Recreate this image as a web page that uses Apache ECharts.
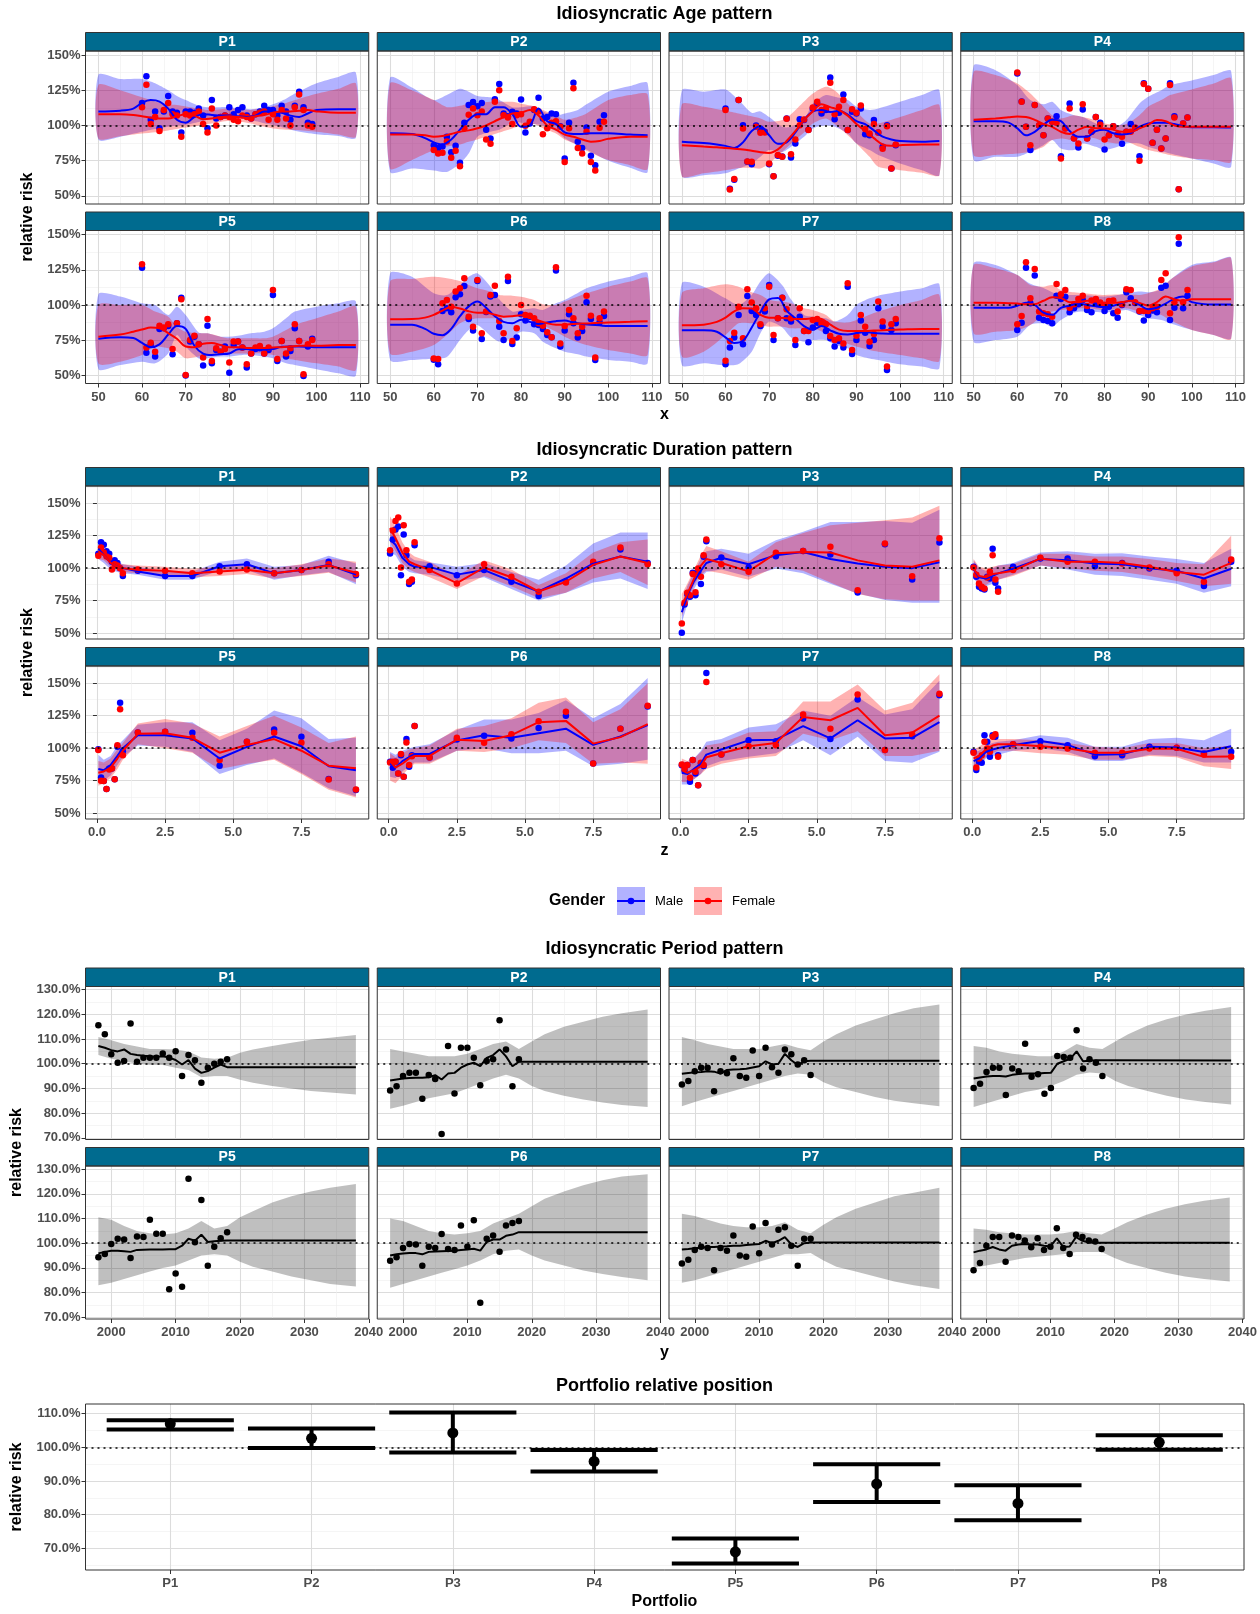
<!DOCTYPE html>
<html>
<head>
<meta charset="utf-8">
<title>Idiosyncratic patterns</title>
<script src="https://cdn.jsdelivr.net/npm/echarts@6.0.0/dist/echarts.min.js"></script>
<style>
  html, body { margin: 0; padding: 0; background: #fff; }
  #chart { width: 1260px; height: 1614px; }
</style>
</head>
<body>
<div id="chart"></div>
<script>
// ---------- data ----------
const FACETS = ['P1', 'P2', 'P3', 'P4', 'P5', 'P6', 'P7', 'P8'];

// age pattern
const AGE_PT_X = [60, 61, 62, 63, 64, 65, 66, 67, 68, 69, 70, 71, 72, 73, 74, 75, 76, 77, 78, 79,
  80, 81, 82, 83, 84, 85, 86, 87, 88, 89, 90, 91, 92, 93, 94, 95, 96, 97, 98, 99];
const AGE_FIT_X = [50, 55, 58, 60, 62, 64, 66, 68, 70, 72, 74, 76, 78, 80, 82, 84, 86, 88, 90, 92, 94, 96, 98, 100, 105, 109];
const AGE_BAND_X = [50, 55, 60, 63, 66, 68, 70, 73, 75, 78, 80, 83, 85, 88, 90, 93, 95, 100, 105, 109];

const ageMalePts = [
  [116, 135, 104, 110, 98, 110, 121, 110, 109, 95, 110, 110, 109, 112, 107, 98, 118, 105, 106, 107, 113, 108, 111, 113, 107, 105, 108, 110, 114, 111, 111, 107, 114, 110, 104, 114, 124, 113, 102, 101],
  [86, 84, 85, 92, 81, 85.5, 73.5, 102, 114.5, 116.6, 113.7, 116, 97, 90.8, 118.7, 129.4, 108.5, 106.6, 109.7, 108.5, 118.5, 95, 101.4, 111, 119.7, 105, 106, 108.5, 108, 99.5, 76.5, 102, 130.3, 88.4, 84, 98.6, 78.4, 71.8, 102.6, 107.3],
  [112, 55, 61.5, 118, 100.2, 74.2, 72.5, 100, 96.7, 95.5, 72.5, 64, 78.4, 78, 105, 77.3, 87.2, 104.5, 103.8, 97, 112, 115.6, 108.5, 111, 134, 104.5, 109, 122, 96.7, 109.7, 108.5, 112, 93.8, 93, 103.8, 95, 84.8, 100.2, 69.4, 86],
  [137, 117, 99, 82.5, 114.5, 100, 93, 105, 102.6, 106.6, 78.2, 98, 115.6, 91, 84.4, 111.4, 91, 95.5, 106, 102, 83, 93, 99.5, 93.6, 87, 95.5, 101, 98.3, 78.2, 130, 126, 87.7, 97, 83.6, 90.8, 130, 106.6, 54.7, 101.4, 105.7],
  [126.5, 66.1, 72, 63.3, 83, 83.5, 85, 65, 87, 105.2, 49.8, 74, 77.5, 72, 56.9, 85.3, 58.5, 68, 66.8, 70.4, 51.9, 71.6, 74, 69.7, 55.5, 65.6, 68.7, 69.2, 65.6, 68, 107.1, 60.2, 74.4, 63.3, 67.3, 83.4, 74.4, 49.5, 70.5, 76],
  [61, 57.8, 95.7, 97.6, 94.8, 105.5, 107.6, 113.5, 90, 81.8, 117, 75.8, 95, 106, 107.1, 84.6, 75.1, 117, 72.3, 76.8, 93.4, 88.9, 91.7, 86.3, 85.8, 82.9, 78.7, 77, 124.4, 70.4, 81.8, 93.4, 87, 76.8, 81.5, 101.9, 90, 60.9, 87.7, 92.2],
  [57.8, 69.7, 76.8, 92.9, 72, 106.4, 95.7, 92.9, 85, 95.3, 114.2, 75.1, 90.5, 105.2, 90.5, 88.2, 71.6, 91.7, 81.5, 73.5, 83.9, 87.4, 87, 81.5, 76.3, 70.4, 74.4, 69.7, 113, 65.2, 75.1, 88.9, 80.3, 70.9, 75.1, 97.6, 84.6, 53.8, 82.2, 87],
  [82.2, 87.4, 126.5, 101.2, 120.9, 91, 89.3, 88.6, 87, 106.6, 104.3, 105.9, 94.8, 97.6, 100.5, 103.6, 96.4, 94.8, 101.2, 100.5, 95.7, 98.8, 94.1, 91, 100, 109, 104.7, 101.4, 95.3, 88.9, 92.9, 96, 94.8, 112.3, 113.7, 89.3, 98.1, 143.4, 97.6, 106.6]
];
const ageFemalePts = [
  [113, 129, 101, 106, 96, 111, 116, 108, 107, 92, 108, 107, 108, 110, 101, 95, 112, 100, 106, 107, 106, 104, 103, 107, 106, 105, 108, 109, 110, 104, 108, 104, 111, 105, 100, 113, 122, 111, 100, 99],
  [82.5, 80, 80.6, 88.6, 77, 82, 71, 98, 107.6, 112, 107.3, 110, 90, 87, 116.8, 125, 107.3, 105.7, 101, 107.3, 108, 99.8, 102.6, 111.6, 110, 93.8, 98, 102, 103, 99, 74, 98, 126.5, 84, 80, 95.5, 74, 68, 98.3, 102.6],
  [111, 54.5, 62, 118, 97.9, 74.4, 74.2, 99, 94.8, 95, 73, 64, 79, 77.7, 104.7, 79.6, 90, 100.2, 104.3, 96.7, 112.8, 116.8, 111, 112, 130.3, 108, 113.3, 118, 96.7, 111.6, 109, 114.2, 97.4, 94.3, 101, 95, 83.4, 99.5, 69.4, 86.5],
  [137.7, 116.8, 99, 86, 114.5, 100.2, 93, 105, 102.6, 102, 76.5, 97.9, 112, 90.8, 87.2, 115, 90.8, 95.5, 106, 100.5, 90, 93, 99.5, 93.6, 92, 95.5, 95.5, 98.3, 74.9, 129.4, 126, 87.7, 97, 83.6, 90.8, 128.7, 105.7, 54.7, 101.4, 105.7],
  [128.9, 69.7, 73.2, 66.8, 85.3, 84, 86.3, 68.7, 87, 104, 50.2, 75.1, 78.2, 72, 62.6, 90, 60.2, 69.2, 66.8, 68.7, 59.2, 74, 74, 69.7, 57.8, 65.6, 69.7, 70.9, 65.6, 69.7, 110.7, 61.6, 74.4, 65.6, 69.2, 86.3, 74.4, 50.7, 72, 75.1],
  [62, 61.6, 101.2, 103.6, 98.8, 109.5, 111.8, 118.9, 91.7, 84.6, 117.8, 79.9, 95.3, 107.1, 113.7, 88.6, 79.9, 120.1, 74.4, 83.4, 100, 92.9, 92.4, 90.5, 87, 85.3, 80.6, 77, 126.8, 72.7, 85, 96.4, 90.5, 79.9, 84.6, 106.6, 92.4, 62.6, 90.5, 95.3],
  [60.4, 74.4, 80.3, 98.8, 76.3, 111.1, 101.7, 97.6, 86.3, 97.6, 113, 78.7, 90.5, 105.2, 96.9, 90.5, 75.1, 97.6, 81.5, 81.5, 89.3, 90, 87, 86.3, 78, 75.1, 76.3, 72.7, 115.4, 68, 78.2, 92.9, 84.6, 73.9, 79.4, 102.4, 88.2, 56.2, 86.3, 90],
  [86.3, 92.2, 130.3, 104.7, 125.6, 95.3, 94.1, 93.4, 91.7, 114.9, 107.6, 110.7, 98.1, 100.5, 104.3, 106.6, 99.3, 103.1, 104.3, 101.7, 100, 102.8, 103.1, 95.3, 100.5, 111.1, 110.7, 101.9, 95.7, 95.7, 95.7, 97.6, 98.8, 117.8, 122.5, 94.1, 101.9, 148.1, 101.9, 110.7]
];
const ageMaleFit = [
  [110, 110.5, 112, 116, 118, 117, 112, 104, 102, 106, 108, 107.5, 107, 107, 106.5, 106, 107, 110, 110, 109, 107, 106, 108.5, 111, 111.5, 111.5],
  [94.5, 94, 91, 88, 86.5, 90, 97, 104, 108, 108, 113, 113, 108, 99, 100, 112, 103, 101, 95, 94, 94, 94.5, 94.5, 94.5, 93.5, 93],
  [88.5, 87.5, 86.5, 85.5, 84, 88, 96, 99.5, 93, 87, 88, 95, 104, 110, 111, 109.5, 110.5, 107.7, 103, 101, 96.5, 92, 90, 89, 88.5, 89],
  [103, 103, 102, 98, 93, 95.5, 100.5, 104, 103, 96, 92, 92, 96, 97, 94.5, 93.5, 94.5, 99, 101.4, 102, 102, 101, 99.5, 98.8, 98.8, 98.5],
  [76, 77, 76.5, 73, 70, 72, 79, 85, 83, 71, 65.5, 64.5, 65, 65.5, 68.5, 68.7, 68, 68.3, 68.7, 70.3, 70.5, 70.5, 70.3, 70, 70, 70],
  [86, 86, 83, 79.5, 78.5, 83, 92, 99, 102.4, 98, 92, 88, 87, 89.5, 88, 86.5, 87.5, 88.5, 89, 87.5, 86.5, 86, 85.5, 85, 85, 85],
  [82, 82, 81, 77, 73, 74.5, 84, 95, 104, 105, 96, 90.5, 85, 82.5, 85, 82, 79.5, 79, 80, 80.8, 80, 79.7, 79.6, 79.5, 79.5, 79.5],
  [98, 98, 98, 99.5, 101.5, 100, 94.5, 93, 98, 99.5, 101, 100, 99, 98.5, 99.5, 101.5, 103, 100, 97, 98, 101, 104.5, 106, 102, 100.3, 100.3]
];
const ageFemaleFit = [
  [108, 108, 107.5, 106.5, 105.5, 105, 105, 106.5, 108, 107, 104.5, 105, 106, 106.5, 106, 105.5, 106.5, 107.5, 109, 110, 110, 110.5, 111, 110, 109, 109],
  [93.5, 93.5, 93, 92, 92.5, 94, 95.5, 96.5, 98, 100, 103, 106, 108.5, 109, 111, 107, 100, 97, 93.5, 92, 90, 88.5, 89, 90.5, 92, 92],
  [86, 85, 84.5, 84, 83.5, 83, 82, 81, 80.5, 83, 89, 96, 104, 110, 115, 113, 111, 107, 101, 96, 91, 86.5, 85.5, 86, 86.5, 86.5],
  [104, 105, 105.8, 106.3, 106, 104, 101, 99, 95.5, 94, 97, 99, 98, 97.9, 97, 95.5, 95.5, 97.9, 100.5, 103.8, 103, 100, 99, 99, 99, 99],
  [77.5, 79, 81, 82.5, 84, 83.5, 80, 76, 70.5, 70, 72.5, 73, 71.5, 70, 70, 69.5, 69.5, 69.5, 69.8, 70, 70.5, 71, 71, 71, 71.5, 71.5],
  [89.8, 90, 91, 93, 96, 98.5, 97.5, 95.5, 94.5, 94.5, 93, 91.7, 92, 92.6, 91.5, 89, 87, 86, 86, 86.5, 86.8, 87, 87.3, 87.5, 88, 88.5],
  [85.5, 86, 88, 91, 95.5, 97.7, 97.5, 93, 91, 91, 90.5, 90, 90, 90.5, 90, 86, 82.5, 81.5, 81.5, 81.5, 81.8, 82, 82.3, 82.5, 83, 83],
  [101.5, 101.5, 101.2, 101, 100.5, 100.5, 103, 105.5, 105, 102, 102, 103, 102.5, 101.5, 101.5, 102, 103, 101.5, 99.5, 102, 106, 104, 103, 104, 104, 104]
];
const ageMaleHi = [
  [136, 133, 133, 130, 125, 121, 118, 114, 113, 113, 113, 112, 111.6, 113, 115, 119, 122.7, 130, 134.5, 137.4],
  [134, 127, 118, 121.6, 126, 124, 121, 120, 118, 113, 113, 113.7, 110, 107, 108.5, 111, 115, 124, 128, 130],
  [125, 124, 125.6, 118, 109, 110, 106, 99, 99, 104, 115.6, 121.6, 120.4, 118, 113.3, 111, 112, 116.8, 121.6, 125],
  [142.4, 139.3, 128.7, 118, 115, 116.8, 111, 107.3, 106, 101.4, 99, 99.5, 103.8, 115.6, 120.4, 125, 128.7, 132, 135.8, 138.6],
  [107.6, 106, 101.2, 100, 92.9, 98.8, 92.9, 80.5, 79.9, 77.5, 77.5, 78.7, 79.9, 81, 83.4, 90.5, 95.3, 98.8, 101.2, 102.4],
  [122.5, 120.1, 108.3, 107, 114.2, 120.1, 122.5, 113, 104, 95.3, 96.4, 97.6, 96.4, 101.2, 103.6, 108.5, 111.8, 116.6, 120.1, 122.5],
  [115.4, 113, 104.7, 100, 107.1, 116.6, 122.5, 114, 104, 92.9, 91.7, 90.5, 88.2, 92.9, 100, 104.7, 106.6, 109.5, 111.8, 114.7],
  [129.6, 128.4, 121.3, 115, 112, 109, 107.1, 107.1, 107.1, 106.4, 105.9, 107, 108.3, 109.5, 109, 111, 117.8, 128.4, 130.8, 133.6]
];
const ageMaleLo = [
  [90, 92, 95.5, 97.5, 99, 100, 100.5, 102.5, 104, 105.5, 106, 105, 103.8, 101.5, 100.3, 98, 96.2, 93.7, 92.5, 91.2],
  [67, 69.4, 68, 67, 73, 80, 92, 95.5, 97, 102, 102, 101, 100, 96, 91, 86, 83, 75, 70, 67],
  [64, 64.7, 66, 69.4, 73, 77.7, 82.5, 81, 84.8, 92, 97.9, 100.2, 99, 94.3, 87.2, 82.5, 79, 73, 68.2, 64.7],
  [75.4, 77.7, 77.7, 81.3, 86, 89.6, 83.6, 82.5, 87.2, 84.8, 82.5, 84.8, 87.2, 87.2, 84.8, 82, 80, 76.5, 73, 70.6],
  [54.5, 57.3, 59.7, 58.5, 65.6, 78.7, 70.4, 62, 62.1, 63.3, 63.3, 64.5, 64.5, 63.3, 62.1, 58.5, 57.3, 54.3, 51.4, 49.8],
  [60.9, 60.9, 62, 63, 75.1, 82.2, 85.8, 78, 74, 76.3, 81, 79.9, 73.9, 69.2, 66.8, 65, 63.3, 60.9, 59.7, 58.5],
  [57.3, 58.5, 57, 58, 66.8, 79.9, 88.2, 84, 77, 73.9, 75.1, 75.1, 71.6, 69.2, 64.5, 62, 60.9, 57.8, 56.2, 55],
  [73.9, 75.1, 77.5, 86, 87, 84.6, 89.3, 94.5, 95.3, 95, 94.8, 95.6, 96.4, 92.9, 90.5, 89.3, 87, 82.2, 78.7, 76.3]
];
const ageFemaleHi = [
  [128.7, 125, 120, 117, 115, 114.5, 113.5, 112, 111, 111.5, 112, 111.5, 111, 112.5, 113.7, 116, 118, 122.5, 126, 129.9],
  [130, 125, 118, 113, 114, 115.5, 116, 116.8, 116.8, 116.8, 115.5, 113.7, 111, 107, 104, 106, 108.5, 118, 121.6, 122],
  [115, 113.3, 110.4, 108.5, 106.5, 105, 102.6, 103.8, 108, 117, 122.7, 127.5, 125, 115.6, 109.7, 101.4, 101.4, 106, 111, 114.5],
  [138, 135.8, 129.8, 122.7, 113.3, 107.3, 105, 107.3, 106, 103.8, 101.4, 100.2, 101, 107.3, 113.3, 118, 121.6, 125.6, 129.8, 133.4],
  [100, 100, 100, 95.3, 91.7, 84.6, 81, 79.9, 79.9, 77.5, 76.3, 76.3, 76.3, 76.3, 77.5, 82.2, 85.8, 90.5, 95.3, 98.8],
  [116.6, 118.5, 120.1, 119, 117, 114.2, 111.8, 109.5, 107.1, 106.6, 105.9, 103.6, 100.5, 100, 102.4, 106, 108.3, 113, 116.6, 119],
  [108.3, 111.8, 114.7, 113, 109, 107.1, 103.6, 102.4, 101.2, 97.6, 96.4, 92.9, 88.2, 87.5, 89.3, 93, 95.3, 100, 103.6, 107.1],
  [128.4, 126.1, 121.3, 114.2, 113, 114.2, 110.7, 109, 108.3, 107.5, 107.1, 107.4, 107.6, 107.1, 108.3, 111.8, 117.8, 127.3, 130.3, 133.2]
];
const ageFemaleLo = [
  [90.8, 92.4, 94.3, 95.2, 96.5, 97.5, 98.5, 100, 101, 102.5, 103.3, 102.5, 101.4, 99, 97.9, 97, 96.7, 95.5, 93.5, 92],
  [69.4, 75.4, 82.5, 85, 86.5, 88.4, 90, 93, 95, 97.9, 100, 101, 98, 94.3, 90, 86, 82, 75.4, 71.8, 69],
  [64, 66, 68.2, 69.8, 70, 69.4, 73, 81.3, 87, 95, 101.4, 105, 101, 93.1, 87.2, 77.7, 70.6, 68.2, 66.4, 64.7],
  [79, 79, 80, 81.3, 84.8, 89.6, 90.8, 89.6, 92, 90.8, 88.4, 87.2, 88.5, 84.8, 82.5, 80.5, 79, 76.5, 75.4, 74.2],
  [58.5, 59.7, 64.5, 70.4, 69.2, 66.8, 62.1, 63.3, 64.5, 65.6, 65.6, 65.6, 65.6, 65.6, 64.5, 62.1, 60.9, 58.5, 56.2, 53.8],
  [65.6, 66.8, 71.6, 78.7, 87, 89.3, 90.5, 90.5, 91, 91.7, 92.9, 89.3, 85.8, 81, 77.5, 73.5, 71.6, 68, 65.6, 64.5],
  [63.3, 66.8, 78.7, 87, 87, 85.8, 84.6, 84.6, 83.4, 83.4, 83.4, 79.9, 76.3, 72.5, 70.4, 68, 66.8, 64.5, 62.1, 60.2],
  [79.9, 81, 82.2, 85.8, 92.9, 95.3, 96.4, 97.3, 97.6, 97, 96.4, 97, 97.6, 95.3, 94.1, 92.9, 89.3, 82.2, 78.7, 75.8]
];

// duration pattern
const DUR_PT_X = [0.05, 0.15, 0.25, 0.35, 0.45, 0.55, 0.65, 0.75, 0.85, 0.95, 1.5, 2.5, 3.5, 4.5, 5.5, 6.5, 7.5, 8.5, 9.5];
const DUR_FIT_X = [0.05, 0.25, 0.5, 0.75, 0.95, 1.5, 2.5, 3.5, 4.5, 5.5, 6.5, 7.5, 8.5, 9.5];

const durMalePts = [
  [111, 120, 118, 113, 111, 105, 106, 104, 100, 94, 98, 94, 94, 101.5, 103, 96, 98.5, 105, 94.5],
  [111.3, 122, 129.7, 132, 94.6, 126, 110, 87.7, 89.5, 117.7, 101.5, 94.6, 98.5, 89.5, 78.5, 89.5, 104, 114.4, 104],
  [50.3, 72, 80, 78, 96.4, 79.2, 97, 87.7, 108.7, 120.8, 108.2, 100.5, 109.2, 113.3, 110.5, 81.3, 118.5, 91.3, 119.7],
  [101, 93.3, 85.6, 84.4, 83.6, 93.3, 92, 115, 88.7, 84.4, 101, 107.4, 107.4, 101.5, 104, 99.7, 98, 86.2, 104.9],
  [99.2, 77.4, 74.6, 68.5, 84.4, 84.4, 76, 101, 135, 97.7, 112, 112.6, 111.8, 86.4, 104.9, 114.4, 108.7, 76.2, 67.7],
  [89.5, 84.9, 89.5, 80.5, 94.6, 78, 107, 85.6, 94.6, 117, 92.8, 106.7, 109.5, 107.4, 115.6, 124.9, 88.2, 115, 132],
  [86.9, 82.6, 87, 74.1, 90.8, 80.5, 71.5, 88.2, 86.2, 158, 95.1, 106, 105.4, 122.8, 107, 137.4, 98.5, 109.2, 140.8],
  [97.2, 83.1, 89.5, 88.7, 110, 104.9, 93.3, 110, 108.7, 94.6, 103, 105.4, 102.3, 93.8, 94.6, 101, 100.3, 95.9, 97.2]
];
const durFemalePts = [
  [109.5, 116, 112, 109, 108, 99, 103, 102, 100, 96, 99, 98, 96, 97.5, 99, 96, 98.5, 103, 95.5],
  [113.8, 129, 136.4, 139, 100.5, 133, 113.8, 89.5, 91.3, 120, 98.5, 88.2, 103, 93.3, 81.8, 89, 104.9, 116, 103],
  [57.4, 73.3, 81, 79.2, 95.4, 81.5, 99.7, 93.3, 110, 122, 103, 97.2, 111.8, 113.3, 116.4, 83, 119, 93.8, 123],
  [100.5, 95, 88.2, 85.6, 84.4, 92.8, 97.2, 110, 91.3, 81.8, 98.5, 108, 104.9, 104.9, 103.6, 100.5, 96, 89.5, 106.7],
  [98.5, 74.9, 74.6, 68.5, 83.6, 84.4, 76, 102.3, 130, 94.6, 112, 112.6, 108, 90.8, 104.9, 111.8, 104.1, 75.9, 68.2],
  [89, 89.5, 89.5, 80.5, 95.4, 78, 104.4, 87, 93.8, 117, 92.8, 108, 104.1, 110.8, 120.8, 128, 88.2, 115, 132.7],
  [87.4, 84.4, 87, 77.2, 90.8, 81.8, 71.5, 88.7, 87, 151, 95.1, 101.5, 102.3, 126, 115, 141.3, 98.5, 110.5, 142],
  [96.4, 85.1, 92, 94.6, 104.9, 99.7, 97.2, 108.7, 110.8, 93.3, 103, 101, 99.7, 96.4, 96.4, 99.7, 100.3, 95.1, 93.3]
];
const durMaleFit = [
  [115, 110, 104, 101, 100, 97.5, 94, 94, 101.5, 103, 96, 98.5, 102.5, 95],
  [122, 118, 108, 103, 101, 101, 95, 98.5, 90, 82, 92, 103.5, 109, 105],
  [66, 79, 90, 98, 104, 108, 103, 110, 112.5, 107, 103.5, 101, 100, 104.5],
  [99, 93, 92, 94, 96, 99.5, 107, 106, 103.5, 103, 100, 98, 92, 99.5],
  [84, 83, 87, 94, 100, 110, 110, 107.5, 92, 101, 109, 101.5, 86, 83],
  [88, 85, 90, 93, 95.5, 95.5, 106, 110, 108, 111.5, 115, 102.5, 109, 117.7],
  [81, 80, 84, 88, 95, 99, 106, 106.5, 117, 107.5, 121.5, 107.5, 108, 120],
  [90, 92, 97, 99, 100, 102.5, 105.5, 102.5, 95, 95.3, 101, 100.5, 97, 101.5]
];
const durFemaleFit = [
  [113, 110, 104, 101, 100, 98.8, 98, 96, 97.5, 98.8, 96, 98.5, 102, 96.5],
  [131, 123, 112, 105, 103, 98.5, 88.5, 100.5, 93, 82, 89.5, 102.5, 109, 104],
  [71, 80, 92, 102, 107, 104, 97.5, 111.5, 112.5, 112, 106, 102, 101, 106],
  [99.5, 94, 93, 95.5, 96, 98, 107.5, 105, 105, 104, 101, 97, 95, 104],
  [81, 82, 85, 92, 98, 111, 111.5, 108, 96.5, 102.5, 107, 98, 86.5, 84.5],
  [90, 85, 88, 92, 94, 94, 106.5, 105.5, 110, 120, 121, 103.5, 108.5, 118.5],
  [83, 81, 83, 86, 93, 96, 101.5, 104, 124, 121.5, 131, 110, 112, 125],
  [92, 94, 99, 102, 103, 103, 101.5, 100, 96.5, 96.5, 99.5, 99.5, 93.3, 93.5]
];
const durMaleHi = [
  [121, 115, 109, 105, 103, 101, 97.5, 97.5, 105, 107.5, 101, 102.5, 109.5, 103.5],
  [130, 125, 115, 109, 106, 104.5, 101, 104, 97, 91, 102, 119, 127.5, 127.5],
  [72, 86, 97, 107, 113, 115, 111, 121.5, 128, 135.6, 135.6, 136.4, 135, 145],
  [106, 100, 98, 100, 102, 104, 112, 113, 111, 111.5, 109, 107, 104, 115],
  [95, 91, 94, 102, 106, 118, 120, 120, 106, 115, 129, 123, 107, 108],
  [97, 95, 98, 100, 101, 103, 114, 122, 122, 127, 137, 123, 134, 154],
  [90, 88, 92, 98, 105, 107, 116, 118.5, 129, 125, 139.5, 126, 130, 152],
  [97, 98, 102, 104, 105, 106, 110, 108, 101, 101, 107, 108, 106, 115]
];
const durMaleLo = [
  [107, 104, 99, 97, 96, 95, 91, 91, 98, 98.5, 91, 94.5, 97, 87.5],
  [112, 110, 101, 97, 96, 95, 90, 93, 84, 75, 81, 89, 92, 84],
  [58, 72, 84, 93, 97, 99, 93.3, 99.7, 96, 88, 80.5, 75.4, 73.3, 73.3],
  [92, 87, 86, 88, 91, 95, 102, 99, 95, 94, 91, 88, 81, 86],
  [75, 75, 79, 87, 93, 102, 101, 97, 80, 87, 92, 81, 69, 63],
  [78, 77, 82, 86, 89, 89, 98, 100, 96, 96, 98, 86, 88, 91],
  [72, 72, 76, 80, 86, 90, 93.3, 96, 106, 94.6, 108.7, 90, 88.7, 97.2],
  [83, 86, 92, 94, 95, 98, 100, 97, 90, 90, 95, 94, 89, 89]
];
const durFemaleHi = [
  [117, 113, 107, 104, 103, 102, 101, 99.5, 101, 102, 100, 103, 107.5, 105],
  [140, 132, 120, 112, 109, 105, 94, 106, 99, 87, 96, 112, 120, 122],
  [80, 88, 99, 110, 117, 113, 105, 120, 127, 133, 135, 137, 139, 148],
  [107, 101, 100, 101, 102, 103, 111, 111, 109, 109, 107, 104, 103, 125],
  [90, 89, 92, 99, 104, 119, 122.5, 119, 109, 117, 125, 116, 104, 109],
  [96, 93, 96, 99, 100, 102, 115, 117, 123, 135, 139, 120, 130, 150],
  [92, 90, 92, 97, 102, 104, 112, 113, 136, 136, 149, 129, 135, 157],
  [99, 101, 105, 107, 107, 107, 106, 104, 101, 100, 104, 104, 100, 102]
];
const durFemaleLo = [
  [107, 106, 101, 98, 97, 96, 95, 93, 94, 95.5, 92, 94, 96.5, 89],
  [120, 113, 104, 99, 97, 93, 84, 94, 86, 77, 81, 92, 97, 87],
  [63, 74, 87, 95, 98, 96, 91, 101, 98, 89, 80, 76, 75, 75],
  [93, 88, 87, 90, 91, 94, 102, 100, 98, 97, 94, 90, 86, 88],
  [71, 73, 77, 84, 91, 103, 100, 96.5, 84, 88, 91, 80, 68, 62],
  [75, 73, 79, 85, 88, 88, 98, 97, 100, 106, 104, 88, 89, 88],
  [74, 74, 76, 80, 84, 88, 92, 94, 111, 106, 113, 94, 94, 98],
  [85, 87, 93, 96, 98, 98, 96, 95, 91, 91, 94, 93, 86, 84]
];

// period pattern
const PER_PT_X = [1998, 1999, 2000, 2001, 2002, 2003, 2004, 2005, 2006, 2007, 2008, 2009, 2010,
  2011, 2012, 2013, 2014, 2015, 2016, 2017, 2018];
const PER_FIT_X = [1998, 1999, 2000, 2001, 2002, 2003, 2004, 2005, 2006, 2007, 2008, 2009, 2010,
  2011, 2012, 2013, 2014, 2015, 2016, 2017, 2018, 2038];
const PER_BAND_X = [1998, 2000, 2002, 2004, 2006, 2008, 2010, 2012, 2014, 2016, 2018, 2020, 2022, 2025, 2028, 2031, 2034, 2038];

const perPts = [
  [115.6, 111.9, 103.8, 100.4, 101.1, 116.3, 100.8, 102.4, 102.4, 102.4, 104.2, 102.4, 105.1, 95, 103.5, 101.4, 92.3, 98.4, 100, 100.8, 101.8],
  [89.2, 90.9, 95, 96.3, 96.3, 85.8, 95.4, 93.8, 71.5, 107.2, 87.9, 106.5, 106.5, 102.4, 91.3, 101.1, 101.8, 117.6, 105.8, 90.9, 101.8],
  [91.6, 93, 97, 98.4, 98.4, 88.9, 97, 96.1, 102.2, 95, 94.3, 105.4, 95, 106.5, 98.6, 96.3, 105.8, 103.8, 99.7, 101.4, 95.4],
  [90.2, 91.9, 96.7, 98.4, 98.4, 87.3, 98.1, 97, 108.1, 94.7, 95.7, 87.8, 90.2, 103.1, 102.7, 102.4, 113.6, 98.1, 101.8, 100.4, 95],
  [94.3, 95.6, 99.7, 101.8, 101.5, 94, 102.7, 102.5, 109.5, 103.8, 103.8, 81.4, 87.7, 82.4, 126.1, 100.4, 117.5, 90.9, 98.6, 102, 104.5],
  [92.9, 94.3, 98.1, 99.7, 99.5, 90.9, 98.6, 98.1, 103.7, 97.7, 97.3, 107.2, 98.6, 109.3, 75.9, 101.8, 103.1, 96.6, 107.2, 108.2, 109],
  [91.8, 93.3, 97.3, 98.6, 98.1, 89.1, 98.1, 97, 103.1, 95, 94.5, 106.8, 95.9, 108.2, 99.5, 105.5, 106.5, 99, 90.9, 101.8, 101.8],
  [89.1, 92, 99, 102.5, 102.5, 92.5, 103.1, 102.5, 101.1, 98.4, 102, 97.3, 98.6, 106.1, 98.1, 95.6, 103.4, 102.5, 101.1, 100.7, 97.7]
];
const perFit = [
  [107.2, 106.5, 105.5, 105, 105.8, 104, 103.5, 103.2, 103, 102.8, 103, 102.5, 101.5, 99.7, 101.5, 98, 96.3, 97, 98.4, 99.7, 98.6, 98.6],
  [93.2, 93.6, 94, 94.2, 94.3, 94.3, 94.5, 95.4, 93.6, 96, 96.3, 98.4, 99.7, 100.4, 99, 102.4, 103.5, 105.8, 103, 99, 100.8, 100.8],
  [95.9, 96.2, 96.5, 96.7, 97, 96.8, 96, 97.5, 97.7, 97.8, 98, 98.5, 99, 101, 99.7, 100, 104, 101.4, 99.5, 101, 101.2, 101.2],
  [94, 94.4, 94.8, 95, 95, 94.8, 95.5, 95.8, 96, 96, 96, 96.2, 96.3, 100, 101, 102, 105, 101, 101.2, 101.4, 101.4, 101.3],
  [95.9, 96.5, 97, 97, 96.8, 96.5, 97.3, 97.4, 97.5, 97.5, 97.5, 97.6, 97.6, 99, 101.8, 101, 103.5, 100.5, 100.8, 101, 101.1, 101.1],
  [95, 95.5, 95.8, 96, 96, 95.5, 96.5, 96.7, 96.8, 96.9, 97, 97.3, 97.5, 97.8, 97, 100.5, 101.5, 101.5, 103, 103.5, 104.5, 104.5],
  [97.5, 97.7, 98, 98.2, 98.5, 98.5, 98.7, 98.8, 99, 99, 99.3, 99.5, 99.7, 101, 100, 101, 102.5, 99.5, 98.5, 100, 100.3, 100.3],
  [96.3, 97, 97.5, 98.5, 97.5, 97, 99, 99.5, 99.7, 99.5, 99.5, 99, 98.7, 102, 98.5, 98.7, 102.5, 101, 100.3, 100.2, 100.2, 100.2]
];
const perHi = [
  [110.8, 109.5, 108, 107, 106, 106, 105.8, 105, 102.5, 102, 102.4, 104.5, 105.8, 107.2, 108.5, 109.7, 110.5, 111.6],
  [106, 105, 104, 103, 103, 103, 104, 106, 108, 109, 106, 109, 112, 115, 117, 119, 120.5, 122],
  [110.8, 109.5, 108, 107, 106, 106, 106, 107, 108, 106.5, 105.5, 109, 112, 115.5, 118, 120.5, 122.5, 124],
  [107.2, 106.5, 105, 104, 103.5, 103, 103, 105, 108, 106.5, 106, 109, 112, 115.5, 118, 120, 121.5, 123],
  [110.5, 109.5, 107, 105, 104, 103.5, 104, 106, 109, 106, 107, 110.5, 113, 116.5, 119, 121, 122.5, 124],
  [110, 109, 107, 105, 104, 103.5, 104, 105, 108, 110, 112, 115, 118, 121, 123.5, 125.5, 127, 128],
  [112, 111, 109.5, 108, 107, 106.5, 106.5, 107, 108.5, 105.5, 104, 107.5, 110.5, 114, 116.5, 119, 120.5, 122.5],
  [106, 105.5, 104.5, 104, 103.5, 103.5, 103.5, 104, 105, 104, 103.5, 106, 108.5, 111.5, 114, 115.8, 117.2, 118.5]
];
const perLo = [
  [103.5, 102, 101, 100, 99.5, 99.5, 98.4, 97.5, 94.5, 95, 95, 93.5, 92.3, 91, 90, 89, 88.3, 87.5],
  [81.8, 83, 84.5, 86, 87, 88, 90, 92, 94, 95.5, 94, 91, 89, 87, 85.5, 84.3, 83.3, 82.5],
  [82.8, 84.5, 86, 87.5, 89, 90.5, 92, 93.5, 95, 96, 95.5, 92.5, 90.5, 88.5, 86.5, 85, 84, 82.8],
  [82.5, 84, 85.5, 87, 88.5, 89.5, 91, 93, 95.5, 96.5, 96, 93, 91, 89, 87, 85.5, 84.5, 83.5],
  [83, 84, 85.5, 87, 88.5, 90, 91, 93, 95, 95.5, 95, 92.5, 90.5, 88.5, 86.5, 85, 83.5, 82.5],
  [82, 83.5, 85, 86.5, 88, 89.5, 91, 93, 95.5, 97, 97.5, 95, 93, 91, 89, 87.5, 86.3, 85],
  [84, 85, 86.5, 88, 89.5, 91, 92.5, 94, 95.5, 95.5, 96, 93, 90.5, 88.5, 86.5, 84.5, 83, 81.5],
  [90, 91, 92, 93, 94, 94.5, 95, 95.5, 96.5, 96.5, 96.5, 94, 92, 90, 88, 86.5, 85.5, 84.5]
];

// portfolio relative position
const PORT_NAMES = ['P1', 'P2', 'P3', 'P4', 'P5', 'P6', 'P7', 'P8'];
const PORT_POS = [1, 2, 3, 4, 5, 6, 7, 8];
const portMid = [107, 102.7, 104.3, 95.8, 68.9, 89.1, 83.3, 101.5];
const portLo = [105.3, 99.8, 98.5, 92.8, 65.4, 83.7, 78.3, 99.3];
const portHi = [108.1, 105.6, 110.4, 99.2, 72.9, 95, 88.7, 103.6];

// tick values
const AGE_X_TICKS = [50, 60, 70, 80, 90, 100, 110];
const RISK_Y_TICKS = [50, 75, 100, 125, 150];
const DUR_X_TICKS = [0, 2.5, 5, 7.5];
const PER_X_TICKS = [2000, 2010, 2020, 2030, 2040];
const PER_Y_TICKS = [70, 80, 90, 100, 110, 120, 130];
const PORT_Y_TICKS = [70, 80, 90, 100, 110];

// ---------- layout & style ----------
const FONT = '"Liberation Sans", Arial, Helvetica, sans-serif';
const COL_LEFT = [85.5, 377.25, 669, 960.75];
const PANEL_W = 283.25;
const PANEL_H = 153;
const STRIP_H = 18.5;
const CENTER_X = 664.5;
const STRIP_FILL = '#006b8f';
const MAJOR = '#dcdcdc';
const MINOR = '#eeeeee';
const BLUE = '#0000ff';
const RED = '#ff0000';
const BLUE_FILL = 'rgba(0,0,255,0.3)';
const RED_FILL = 'rgba(255,0,0,0.3)';
const GREY_FILL = 'rgba(0,0,0,0.25)';

const pct0 = v => v + '%';
const pct1 = v => v.toFixed(1) + '%';

const AGE = {
  tops: [51, 230.5],
  x: { min: 47.05, max: 111.95, step: 10, ticks: AGE_X_TICKS, fmt: v => String(v) },
  y: { min: 44.2, max: 152.9, step: 25, ticks: RISK_Y_TICKS, fmt: pct0 }
};
const DUR = {
  tops: [486, 666],
  x: { min: -0.42, max: 9.97, step: 2.5, ticks: DUR_X_TICKS, fmt: v => v.toFixed(1) },
  y: { min: 45.4, max: 163.3, step: 25, ticks: RISK_Y_TICKS, fmt: pct0 }
};
const PER = {
  tops: [986.5, 1166],
  x: { min: 1996, max: 2040, step: 10, ticks: PER_X_TICKS, fmt: v => String(v) },
  y: { min: 69.3, max: 131.3, step: 10, ticks: PER_Y_TICKS, fmt: pct1 }
};
const PORT_X = { min: 0.4, max: 8.6, step: 1, ticks: PORT_POS, fmt: v => PORT_NAMES[Math.round(v) - 1] || '', noMinor: true };
const PORT_Y = { min: 63.5, max: 112.9, step: 10, ticks: PORT_Y_TICKS, fmt: pct1 };

const grids = [], xAxes = [], yAxes = [], series = [], graphics = [];

function onStep(v, step) {
  const r = v / step;
  return Math.abs(r - Math.round(r)) < 1e-6;
}

function makeAxis(spec, gi, outer, isX) {
  return {
    type: 'value', gridIndex: gi, min: spec.min, max: spec.max,
    minInterval: spec.step, maxInterval: spec.step,
    axisLine: { show: false },
    axisTick: { show: outer, length: 4, customValues: spec.ticks, lineStyle: { color: '#333', width: 1 } },
    axisLabel: {
      show: outer, customValues: spec.ticks, margin: isX ? 7 : 5,
      color: '#4d4d4d', fontSize: 13, fontWeight: 'bold', fontFamily: FONT,
      formatter: v => (onStep(v, spec.step) ? spec.fmt(v) : '')
    },
    splitLine: { show: true, lineStyle: { color: MAJOR, width: 1.1 } },
    minorTick: { show: false, splitNumber: 2 },
    minorSplitLine: { show: !spec.noMinor, lineStyle: { color: MINOR, width: 0.6 } }
  };
}

function border(left, top, w, h) {
  graphics.push({
    type: 'rect', z: 100, silent: true,
    shape: { x: left, y: top, width: w, height: h },
    style: { fill: 'none', stroke: '#333', lineWidth: 1 }
  });
}

function text(x, y, str, size, weight, opts) {
  graphics.push(Object.assign({
    type: 'text', z: 101, silent: true, x, y,
    style: {
      text: str, fill: '#000', fontSize: size, fontWeight: weight, fontFamily: FONT,
      align: 'center', verticalAlign: 'middle'
    }
  }, opts || {}));
}

function addPanel(cfg, i) {
  const row = Math.floor(i / 4), col = i % 4;
  const top = cfg.tops[row], left = COL_LEFT[col];
  const gi = grids.length;
  grids.push({ left, top, width: PANEL_W, height: PANEL_H, containLabel: false });
  xAxes.push(makeAxis(cfg.x, gi, row === 1, true));
  yAxes.push(makeAxis(cfg.y, gi, col === 0, false));
  graphics.push({
    type: 'rect', z: 100, silent: true,
    shape: { x: left, y: top - STRIP_H, width: PANEL_W, height: STRIP_H },
    style: { fill: STRIP_FILL, stroke: '#333', lineWidth: 1 }
  });
  graphics.push({
    type: 'text', z: 101, silent: true, x: left + PANEL_W / 2, y: top - STRIP_H / 2 + 0.5,
    style: { text: FACETS[i], fill: '#fff', fontSize: 14, fontWeight: 'bold', fontFamily: FONT, align: 'center', verticalAlign: 'middle' }
  });
  border(left, top, PANEL_W, PANEL_H);
  return gi;
}

function ribbon(gi, xs, lo, hi, fill, smooth) {
  const rows = xs.map((x, k) => [x, lo[k], hi[k]]);
  return {
    type: 'custom', xAxisIndex: gi, yAxisIndex: gi, silent: true, clip: true,
    data: rows, encode: { x: 0, y: [1, 2] },
    renderItem: (params, api) => {
      if (params.dataIndex !== 0) return null;
      const upper = rows.map(r => api.coord([r[0], r[2]]));
      const lower = rows.map(r => api.coord([r[0], r[1]])).reverse();
      return {
        type: 'polygon',
        shape: { points: upper.concat(lower), smooth: smooth || 0 },
        style: { fill, stroke: null }
      };
    }
  };
}

function fitLine(gi, xs, ys, color, smooth, width) {
  return {
    type: 'line', xAxisIndex: gi, yAxisIndex: gi, silent: true,
    data: xs.map((x, k) => [x, ys[k]]),
    showSymbol: false, symbol: 'none', smooth: smooth ? 0.35 : false,
    lineStyle: { color, width: width || 2 }
  };
}

function dots(gi, xs, ys, color, size) {
  return {
    type: 'scatter', xAxisIndex: gi, yAxisIndex: gi, silent: true,
    data: xs.map((x, k) => [x, ys[k]]),
    symbolSize: size, itemStyle: { color, opacity: 1 }
  };
}

function withRef(s) {
  s.markLine = {
    silent: true, symbol: ['none', 'none'], animation: false,
    label: { show: false },
    lineStyle: { color: '#000', type: [2, 4], width: 1.6 },
    data: [{ yAxis: 100 }]
  };
  return s;
}

// ---------- age pattern ----------
for (let i = 0; i < 8; i++) {
  const gi = addPanel(AGE, i);
  series.push(ribbon(gi, AGE_BAND_X, ageMaleLo[i], ageMaleHi[i], BLUE_FILL, 0.25));
  series.push(ribbon(gi, AGE_BAND_X, ageFemaleLo[i], ageFemaleHi[i], RED_FILL, 0.25));
  series.push(withRef(fitLine(gi, AGE_FIT_X, ageMaleFit[i], BLUE, true)));
  series.push(fitLine(gi, AGE_FIT_X, ageFemaleFit[i], RED, true));
  series.push(dots(gi, AGE_PT_X, ageMalePts[i], BLUE, 6.5));
  series.push(dots(gi, AGE_PT_X, ageFemalePts[i], RED, 6.5));
}

// ---------- duration pattern ----------
for (let i = 0; i < 8; i++) {
  const gi = addPanel(DUR, i);
  series.push(ribbon(gi, DUR_FIT_X, durMaleLo[i], durMaleHi[i], BLUE_FILL, 0));
  series.push(ribbon(gi, DUR_FIT_X, durFemaleLo[i], durFemaleHi[i], RED_FILL, 0));
  series.push(withRef(fitLine(gi, DUR_FIT_X, durMaleFit[i], BLUE, false)));
  series.push(fitLine(gi, DUR_FIT_X, durFemaleFit[i], RED, false));
  series.push(dots(gi, DUR_PT_X, durMalePts[i], BLUE, 6.5));
  series.push(dots(gi, DUR_PT_X, durFemalePts[i], RED, 6.5));
}

// ---------- period pattern ----------
for (let i = 0; i < 8; i++) {
  const gi = addPanel(PER, i);
  series.push(ribbon(gi, PER_BAND_X, perLo[i], perHi[i], GREY_FILL, 0));
  series.push(withRef(fitLine(gi, PER_FIT_X, perFit[i], '#000', false)));
  series.push(dots(gi, PER_PT_X, perPts[i], '#000', 6.5));
}

// ---------- portfolio relative position ----------
const PORT_BOX = { left: 85.5, top: 1404, width: 1158.5, height: 166 };
const PORT_HALF = 0.45;
const gp = grids.length;
grids.push(Object.assign({ containLabel: false }, PORT_BOX));
xAxes.push(makeAxis(PORT_X, gp, true, true));
yAxes.push(makeAxis(PORT_Y, gp, true, false));
border(PORT_BOX.left, PORT_BOX.top, PORT_BOX.width, PORT_BOX.height);

series.push(withRef({
  type: 'custom', xAxisIndex: gp, yAxisIndex: gp, silent: true,
  data: PORT_POS.map((x, k) => [x, portLo[k], portHi[k]]),
  encode: { x: 0, y: [1, 2] },
  renderItem: (params, api) => {
    const x = api.value(0), lo = api.value(1), hi = api.value(2);
    const a = api.coord([x - PORT_HALF, hi]), b = api.coord([x + PORT_HALF, hi]);
    const c = api.coord([x - PORT_HALF, lo]), d = api.coord([x + PORT_HALF, lo]);
    const t = api.coord([x, hi]), u = api.coord([x, lo]);
    const st = { stroke: '#000', lineWidth: 4 };
    return {
      type: 'group', children: [
        { type: 'line', shape: { x1: t[0], y1: t[1], x2: u[0], y2: u[1] }, style: st },
        { type: 'line', shape: { x1: a[0], y1: a[1], x2: b[0], y2: b[1] }, style: st },
        { type: 'line', shape: { x1: c[0], y1: c[1], x2: d[0], y2: d[1] }, style: st }
      ]
    };
  }
}));
series.push(dots(gp, PORT_POS, portMid, '#000', 11));

// ---------- titles, axis titles, legend ----------
text(CENTER_X, 14, 'Idiosyncratic Age pattern', 18, 'bold');
text(CENTER_X, 450, 'Idiosyncratic Duration pattern', 18, 'bold');
text(CENTER_X, 949, 'Idiosyncratic Period pattern', 18, 'bold');
text(CENTER_X, 1386, 'Portfolio relative position', 18, 'bold');

text(CENTER_X, 415, 'x', 16, 'bold');
text(CENTER_X, 851, 'z', 16, 'bold');
text(CENTER_X, 1353, 'y', 16, 'bold');
text(CENTER_X, 1602, 'Portfolio', 16, 'bold');

const ROT = { rotation: Math.PI / 2 };
text(28, 217, 'relative risk', 16, 'bold', ROT);
text(28, 652.5, 'relative risk', 16, 'bold', ROT);
text(17, 1152.5, 'relative risk', 16, 'bold', ROT);
text(17, 1487, 'relative risk', 16, 'bold', ROT);

// legend
const LEG_Y = 901;
text(577, LEG_Y, 'Gender', 16, 'bold');
[[617, BLUE, BLUE_FILL, 'Male'], [694, RED, RED_FILL, 'Female']].forEach(([x0, col, fill, name]) => {
  graphics.push({ type: 'rect', z: 100, silent: true, shape: { x: x0, y: LEG_Y - 14, width: 28, height: 28 }, style: { fill } });
  graphics.push({ type: 'line', z: 101, silent: true, shape: { x1: x0, y1: LEG_Y, x2: x0 + 28, y2: LEG_Y }, style: { stroke: col, lineWidth: 2 } });
  graphics.push({ type: 'circle', z: 102, silent: true, shape: { cx: x0 + 14, cy: LEG_Y, r: 3.3 }, style: { fill: col } });
  graphics.push({
    type: 'text', z: 101, silent: true, x: x0 + 38, y: LEG_Y,
    style: { text: name, fill: '#000', fontSize: 13, fontFamily: FONT, align: 'left', verticalAlign: 'middle' }
  });
});

const chart = echarts.init(document.getElementById('chart'), null, { renderer: 'canvas' });
chart.setOption({
  animation: false,
  backgroundColor: '#fff',
  textStyle: { fontFamily: FONT },
  grid: grids,
  xAxis: xAxes,
  yAxis: yAxes,
  series: series,
  graphic: { elements: graphics }
});
</script>
</body>
</html>
